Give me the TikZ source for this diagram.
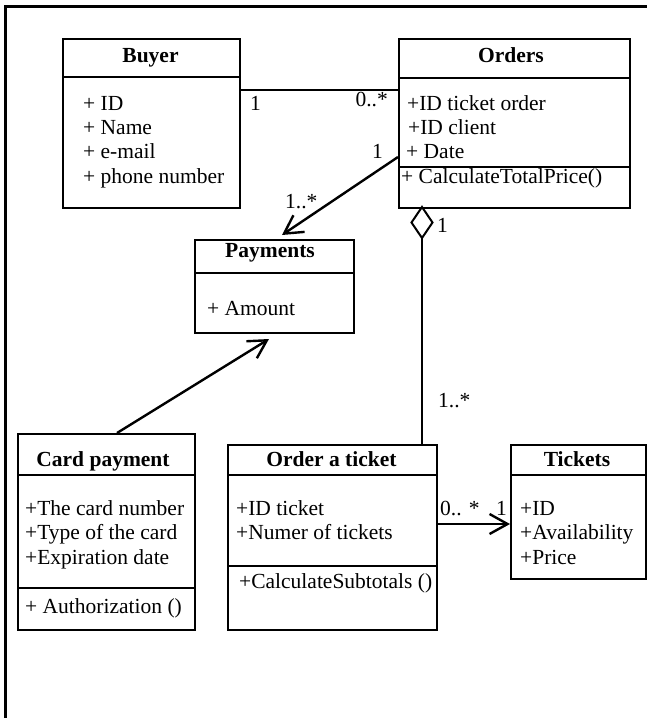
\documentclass[tikz,border=0pt]{standalone}
\usepackage{fontspec}
\setmainfont{Liberation Serif}
\usetikzlibrary{arrows.meta,calc}
\begin{document}
\begin{tikzpicture}[x=1pt,y=-1pt,
  cls/.style={draw,line width=1.8pt,rectangle,inner sep=0pt,anchor=north west},
  divider/.style={line width=1.8pt},
  txt/.style={inner sep=0pt,anchor=base west,font=\fontsize{21.5}{24}\selectfont},
  ttl/.style={inner sep=0pt,anchor=base,font=\fontsize{21.5}{24}\selectfont\bfseries},
  lbl/.style={inner sep=0pt,anchor=base west,font=\fontsize{21.5}{24}\selectfont},
  conn/.style={line width=2.4pt},
  openarrow/.style={conn,-{Straight Barb[length=18pt,width=20pt,line width=2.4pt]}},
  frame/.style={line width=3pt}]
\useasboundingbox (0,0) rectangle (647,718);
% frame
\coordinate (fa) at (5,718);
\coordinate (fb) at (5,6);
\coordinate (fc) at (647,6);
\draw[frame] (fa) -- (fb) -- (fc);

% Buyer
\node[cls,minimum width=177pt,minimum height=169pt] (buyer) at (62,38) {};
\draw[divider] (62,77) -- (239,77);
\node[ttl] (buyerT) at (150.5,62) {Buyer};
\node[txt] (b1) at (83,110) {+ ID};
\node[txt] (b2) at (83,134) {+ Name};
\node[txt] (b3) at (83,158) {+ e-mail};
\node[txt] (b4) at (83,183) {+ phone number};

% Orders
\node[cls,minimum width=231pt,minimum height=169pt] (orders) at (398,38) {};
\draw[divider] (398,78) -- (629,78);
\draw[divider] (398,167) -- (629,167);
\node[ttl] (ordersT) at (511,62) {Orders};
\node[txt] (o1) at (407,110) {+ID ticket order};
\node[txt] (o2) at (408,134) {+ID client};
\node[txt] (o3) at (406,158) {+ Date};
\node[txt] (o4) at (401,183) {+ CalculateTotalPrice()};

% Payments
\node[cls,minimum width=159pt,minimum height=93pt] (pay) at (194,239) {};
\draw[divider] (194,273) -- (353,273);
\node[ttl] (payT) at (270,257) {Payments};
\node[txt] (p1) at (207,315) {+ Amount};

% Card payment
\node[cls,minimum width=177pt,minimum height=196pt] (card) at (17,433) {};
\draw[divider] (17,475) -- (194,475);
\node[ttl] (cardT) at (103,466) {Card payment};
\node[txt] (c1) at (25,515) {+The card number};
\node[txt] (c2) at (25,539) {+Type of the card};
\node[txt] (c3) at (25,564) {+Expiration date};
\draw[divider] (17,588) -- (194,588);
\node[txt] (c4) at (25,613) {+ Authorization ()};

% Order a ticket
\node[cls,minimum width=209pt,minimum height=185pt] (oat) at (227,444) {};
\draw[divider] (227,475) -- (436,475);
\node[ttl] (oatT) at (331.5,466) {Order a ticket};
\node[txt] (t1) at (236,515) {+ID ticket};
\node[txt] (t2) at (236,539) {+Numer of tickets};
\draw[divider] (227,566) -- (436,566);
\node[txt] (t3) at (239,588) {+CalculateSubtotals ()};

% Tickets
\node[cls,minimum width=135pt,minimum height=134pt] (tick) at (510,444) {};
\draw[divider] (510,475) -- (645,475);
\node[ttl] (tickT) at (577,466) {Tickets};
\node[txt] (k1) at (520,515) {+ID};
\node[txt] (k2) at (520,539) {+Availability};
\node[txt] (k3) at (520,564) {+Price};

% Buyer -- Orders
\draw[conn] ($(buyer.north east)+(0,52)$) coordinate (bo1) -- (bo1 -| orders.west);
\node[lbl] (l1) at (250,110) {1};
\node[lbl,anchor=base east] (l2) at (388,106) {0..*};

% Orders -> Payments
\coordinate (op1) at ($(orders.north west)+(0,119)$);
\coordinate (op2) at (282,235);
\draw[openarrow] (op1) -- (op2);
\node[lbl,anchor=base east] (l3) at (383,158) {1};
\node[lbl] (l4) at (285,208) {1..*};

% Card -> Payments
\coordinate (cp1) at (card.north -| 117,0);
\coordinate (cp2) at (269,339);
\draw[openarrow] (cp1) -- (cp2);

% Aggregation Orders <>-- Order a ticket
\coordinate (dt) at (422,207);
\coordinate (dr) at (432.5,222.5);
\coordinate (db) at (422,238);
\coordinate (dl) at (411.5,222.5);
\draw[line width=2pt,fill=white,line join=miter] (dt) -- (dr) -- (db) -- (dl) -- cycle;
\draw[conn] (db) -- (db |- oat.north);
\node[lbl] (l5) at (437,232) {1};
\node[lbl] (l6) at (438,407) {1..*};

% Order a ticket -> Tickets
\coordinate (ot1) at ($(oat.north east)+(0,80)$);
\draw[openarrow] (ot1) -- (ot1 -| tick.west);
\node[lbl] (l7) at (440,515) {0.. *};
\node[lbl] (l8) at (496,515) {1};
\end{tikzpicture}
\end{document}
